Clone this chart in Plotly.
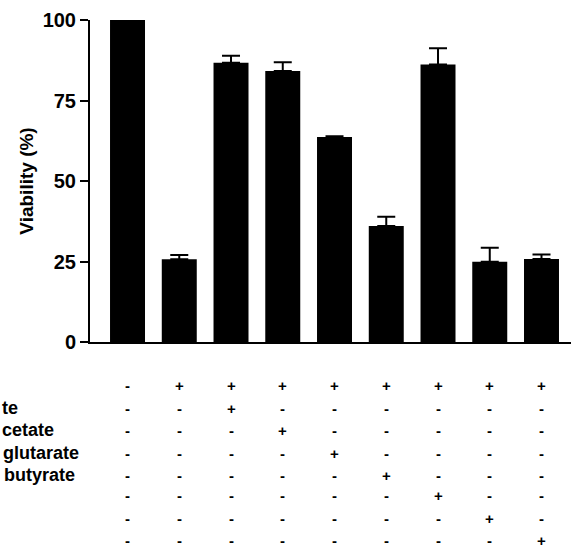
import plotly.graph_objects as go

# Data
groups = list(range(9))
viability = [100, 25.7, 86.7, 84.2, 63.7, 36.0, 86.2, 24.9, 25.8]
errors = [0, 1.3, 2.2, 2.7, 0.2, 2.9, 5.0, 4.4, 1.4]
y_ticks = [0, 25, 50, 75, 100]

row_labels = ["", "te", "cetate", "glutarate", "butyrate", "", "", ""]
table_rows = [
    ["-", "+", "+", "+", "+", "+", "+", "+", "+"],
    ["-", "-", "+", "-", "-", "-", "-", "-", "-"],
    ["-", "-", "-", "+", "-", "-", "-", "-", "-"],
    ["-", "-", "-", "-", "+", "-", "-", "-", "-"],
    ["-", "-", "-", "-", "-", "+", "-", "-", "-"],
    ["-", "-", "-", "-", "-", "-", "+", "-", "-"],
    ["-", "-", "-", "-", "-", "-", "-", "+", "-"],
    ["-", "-", "-", "-", "-", "-", "-", "-", "+"],
]

W, H = 571, 549
ML, MT, MB = 90, 20, 207
PH = H - MT - MB
FONT = "Liberation Sans, Arial, sans-serif"

fig = go.Figure()
fig.add_trace(go.Bar(
    x=groups, y=viability, width=0.676,
    marker=dict(color="black", line=dict(width=0)),
    error_y=dict(type="data", array=errors, arrayminus=[0] * len(errors),
                 symmetric=False, color="black", thickness=2, width=9),
    hoverinfo="skip",
))

# row y positions (pixels from top) for the table
row_px = [385, 408, 430, 453, 475, 496, 518, 540]

def paper_y(py):
    return (H - MB - py) / PH

annotations = []
for r, row in enumerate(table_rows):
    for c, sym in enumerate(row):
        annotations.append(dict(
            x=groups[c], xref="x", y=paper_y(row_px[r]), yref="paper",
            text=sym, showarrow=False, xanchor="center", yanchor="middle",
            font=dict(family=FONT, size=15, color="black", weight="bold"),
        ))

label_left = [0, 0, 0, 1, 2, 0, 0, 0]
PW = W - ML
for r, lab in enumerate(row_labels):
    if lab:
        annotations.append(dict(
            x=(label_left[r] - ML) / PW, xref="paper", y=paper_y(row_px[r]), yref="paper",
            text=lab, showarrow=False, xanchor="left", yanchor="middle",
            font=dict(family=FONT, size=18, color="black", weight="bold"),
        ))

fig.update_layout(
    width=W, height=H,
    margin=dict(l=ML, r=0, t=MT, b=MB, pad=0),
    plot_bgcolor="white", paper_bgcolor="white",
    showlegend=False,
    annotations=annotations,
    font=dict(family=FONT, color="black"),
)
fig.update_xaxes(
    range=[-0.725, 8.57], showline=True, linecolor="black", linewidth=2,
    showticklabels=False, ticks="", showgrid=False, zeroline=False,
)
fig.update_yaxes(
    range=[0, 100], tickvals=y_ticks, showline=True, linecolor="black", linewidth=2,
    ticks="outside", ticklen=8, tickwidth=2, tickcolor="black",
    tickfont=dict(family=FONT, size=20, color="black", weight="bold"),
    showgrid=False, zeroline=False,
    title=dict(text="Viability (%)", standoff=4,
               font=dict(family=FONT, size=19, color="black", weight="bold")),
)

fig.write_html("out.html", config={"displayModeBar": False},
               post_script="document.body.style.margin='0';document.body.style.overflow='hidden';")
